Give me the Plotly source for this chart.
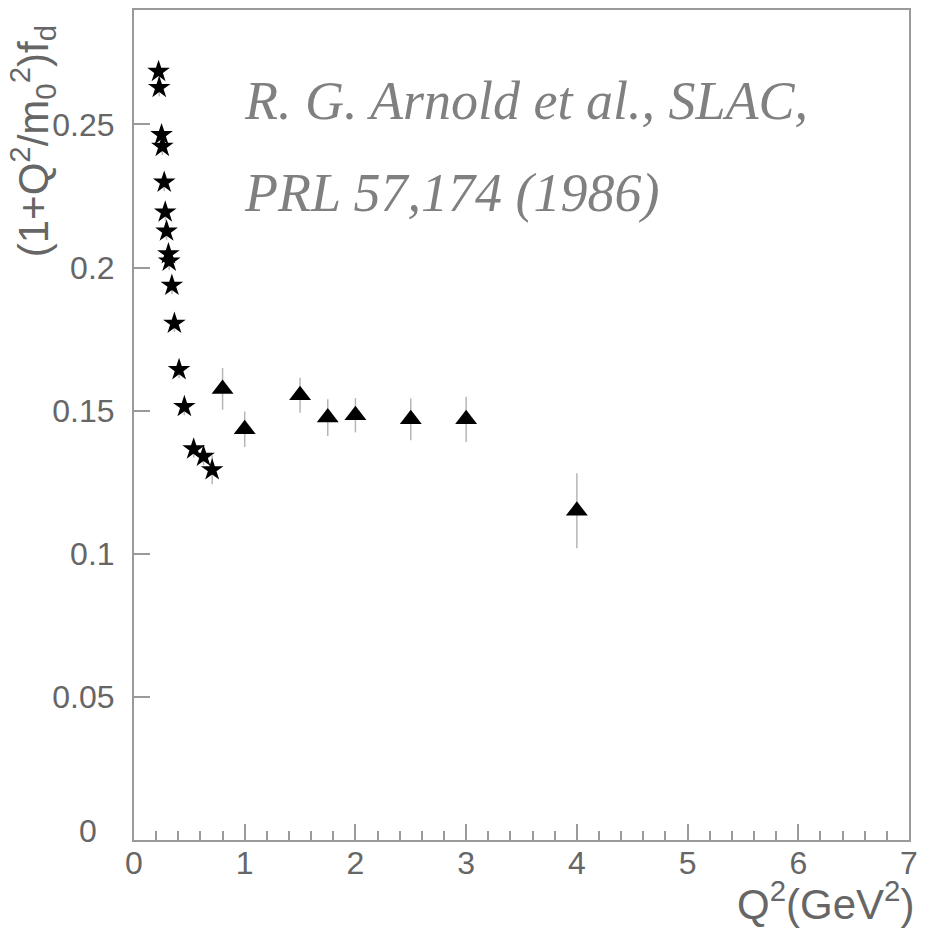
import plotly.graph_objects as go

# Star data (low Q^2)
star_x = [0.222, 0.228, 0.249, 0.256, 0.273, 0.282, 0.294, 0.311, 0.318, 0.342,
          0.365, 0.407, 0.455, 0.539, 0.628, 0.706]
star_y = [0.2685, 0.2629, 0.2464, 0.2423, 0.2298, 0.2194, 0.2127, 0.2048, 0.2022, 0.1938,
          0.1805, 0.1643, 0.1514, 0.1366, 0.1340, 0.1293]
star_err = [0.003, 0.003, 0.003, 0.003, 0.003, 0.003, 0.003, 0.003, 0.003, 0.003,
            0.003, 0.003, 0.003, 0.003, 0.003, 0.005]

# Triangle data (SLAC, Arnold et al.)
tri_x = [0.8, 1.0, 1.5, 1.75, 2.0, 2.5, 3.0, 4.0]
tri_y = [0.1576, 0.1435, 0.1554, 0.1476, 0.1484, 0.1470, 0.1470, 0.1150]
tri_err = [0.0073, 0.0062, 0.0061, 0.0064, 0.0060, 0.0073, 0.0079, 0.0131]

x_ticks = [0, 1, 2, 3, 4, 5, 6, 7]
y_ticks = [0.05, 0.1, 0.15, 0.2, 0.25]
y_ticklabels = ["0.05", "0.1", "0.15", "0.2", "0.25"]

AX = "#9a9a9a"
TXT = "#666666"
FONT = "Liberation Sans, Arial, sans-serif"
SERIF = "Liberation Serif, Times New Roman, serif"

fig = go.Figure()
fig.add_trace(go.Scatter(
    x=star_x, y=star_y, mode="markers",
    error_y=dict(type="data", array=star_err, color="#b8b4bc", thickness=1.5, width=0),
    marker=dict(symbol="star", size=17, color="black", line=dict(width=0)),
    showlegend=False))
fig.add_trace(go.Scatter(
    x=tri_x, y=tri_y, mode="markers",
    error_y=dict(type="data", array=tri_err, color="#b8b4bc", thickness=1.5, width=0),
    marker=dict(symbol="triangle-up", size=19, color="black", line=dict(width=0)),
    showlegend=False))

fig.update_layout(
    width=926, height=931,
    margin=dict(l=134, r=9, t=8, b=91),
    paper_bgcolor="white", plot_bgcolor="white",
    xaxis=dict(range=[0, 7], tickvals=x_ticks, ticks="inside", ticklen=16,
               tickcolor=AX, tickwidth=1.5, showline=True, linecolor=AX, linewidth=2,
               mirror=True, showgrid=False, zeroline=False,
               minor=dict(dtick=0.2, ticks="inside", ticklen=9, tickcolor=AX, tickwidth=1.5),
               tickfont=dict(family=FONT, size=32, color=TXT), ticklabelstandoff=-6),
    yaxis=dict(range=[0, 0.29], tickvals=y_ticks, ticktext=y_ticklabels, ticks="inside",
               ticklen=16, tickcolor=AX, tickwidth=1.5, showline=True, linecolor=AX,
               linewidth=2, mirror=True, showgrid=False, zeroline=False,
               tickfont=dict(family=FONT, size=32, color=TXT), ticklabelstandoff=11),
)

annos = [
    dict(text="R. G. Arnold et al., SLAC,", x=0.974, y=0.2583, xref="x", yref="y",
         xanchor="left", yanchor="middle", showarrow=False,
         font=dict(family=SERIF, size=54, color="#808080", style="italic")),
    dict(text="PRL 57,174 (1986)", x=0.974, y=0.2259, xref="x", yref="y",
         xanchor="left", yanchor="middle", showarrow=False,
         font=dict(family=SERIF, size=54, color="#808080", style="italic")),
    dict(text="(1+Q<sup>2</sup>/m<sub>0</sub><sup>2</sup>)f<sub>d</sub>",
         x=-0.1315, y=0.842, xref="paper", yref="paper", textangle=-90,
         xanchor="center", yanchor="middle", showarrow=False,
         font=dict(family=FONT, size=42, color=TXT)),
    dict(text="Q<sup>2</sup>(GeV<sup>2</sup>)", x=1.009, y=-0.074, xref="paper", yref="paper",
         xanchor="right", yanchor="middle", showarrow=False,
         font=dict(family=FONT, size=42, color=TXT)),
    dict(text="0", x=-0.045, y=0.003, xref="paper", yref="y",
         xanchor="right", yanchor="middle", showarrow=False,
         font=dict(family=FONT, size=32, color=TXT)),
]
fig.update_layout(annotations=annos)

fig.write_html("out.html")
